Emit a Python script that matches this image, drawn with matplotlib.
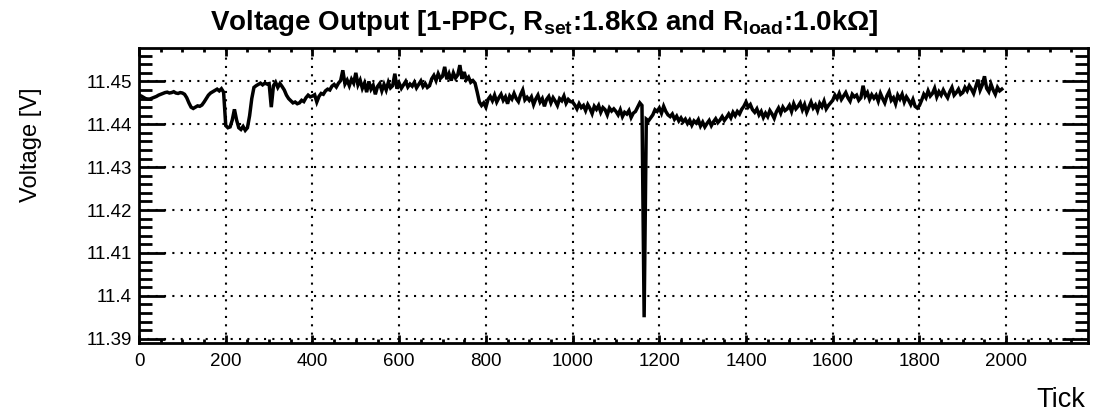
import numpy as np
import matplotlib.pyplot as plt
from matplotlib.ticker import MultipleLocator

plt.rcParams['font.family'] = ['Liberation Sans', 'DejaVu Sans']
plt.rcParams['mathtext.fontset'] = 'custom'
plt.rcParams['mathtext.rm'] = 'Liberation Sans'
plt.rcParams['mathtext.bf'] = 'Liberation Sans:bold'

# readout every 5 ticks, in mV above 11.44 V
base_v = 11.44
ticks = np.arange(0, 1995, 5)
dmv = [
    6.8, 6.6, 6.3, 6.0, 5.9, 5.9, 6.1, 6.3, 6.5, 6.8, 7.0, 7.2, 7.4, 7.5, 7.3, 7.4, 7.6, 7.3, 7.2, 7.4,
    7.3, 7.0, 6.2, 5.0, 4.0, 3.7, 4.0, 4.3, 4.2, 4.5, 5.2, 6.0, 6.8, 7.3, 7.6, 7.9, 8.2, 7.8, 8.3, 7.5,
    -0.3, -0.8, -0.6, 1.0, 3.5, 1.0, -0.8, -1.2, -0.5, -1.4, -0.8, 2.0, 6.0, 8.6, 9.0, 9.3, 9.6, 9.2, 9.6, 9.4,
    9.5, 4.0, 9.0, 9.8, 8.6, 9.5, 8.8, 8.0, 6.8, 6.0, 5.5, 5.0, 5.2, 4.8, 5.0, 5.6, 5.3, 6.2, 6.8, 6.4,
    6.6, 6.9, 5.2, 6.5, 7.2, 7.0, 7.8, 8.2, 8.0, 8.9, 9.3, 8.7, 9.6, 10.2, 12.6, 9.4, 10.3, 9.0, 10.5, 9.6,
    12.0, 9.2, 10.3, 8.4, 9.6, 7.5, 10.0, 8.2, 9.1, 7.0, 8.8, 9.5, 7.8, 9.3, 8.0, 9.8, 8.5, 9.0, 11.8, 8.3,
    9.6, 8.4, 9.2, 10.0, 8.7, 9.4, 8.9, 9.8, 8.5, 9.3, 10.1, 8.8, 9.5, 8.6, 9.0, 10.6, 11.4, 10.2, 11.8, 10.7,
    11.2, 13.4, 10.5, 11.8, 10.2, 12.0, 10.8, 11.5, 13.8, 10.6, 12.2, 10.4, 11.0, 9.8, 10.2, 9.6, 7.5, 5.2, 4.4, 5.0,
    4.0, 5.8, 6.5, 5.5, 6.8, 5.2, 6.2, 7.0, 5.6, 6.4, 4.8, 6.6, 5.9, 7.2, 6.0, 5.3, 6.9, 8.0, 5.7, 6.3,
    5.6, 6.4, 4.6, 5.9, 6.8, 5.2, 6.0, 4.2, 5.8, 6.5, 5.0, 6.2, 5.4, 4.4, 6.0, 5.5, 6.6, 4.9, 5.8, 5.3,
    5.2, 4.5, 3.6, 4.8, 3.9, 4.4, 3.2, 4.6, 3.7, 2.5, 4.2, 3.5, 4.4, 2.8, 3.9, 3.4, 2.2, 3.8, 3.1, 3.6,
    3.0, 2.2, 3.4, 1.8, 2.8, 2.4, 3.2, 1.6, 2.6, 3.0, 4.0, 5.0, 4.4, -45.0, 1.2, 0.8, 1.5, 2.2, 3.4, 3.0,
    3.8, 2.6, 4.2, 3.0, 2.2, 1.8, 2.4, 1.2, 1.9, 0.8, 1.5, 0.6, 1.2, 0.2, 1.0, -0.2, 0.8, 0.3, 1.1, -0.4,
    0.5, -0.6, 0.2, 0.9, -0.3, 0.6, 1.3, 0.4, 1.0, 1.8, 0.9, 1.6, 2.4, 1.5, 2.8, 2.0, 3.0, 2.4, 3.5, 4.2,
    5.2, 4.0, 4.6, 3.4, 2.8, 3.6, 2.2, 3.0, 1.6, 2.6, 1.8, 3.2, 2.4, 1.4, 2.9, 3.8, 2.6, 4.0, 3.2, 3.6,
    4.4, 3.0, 4.8, 3.6, 4.2, 5.0, 3.4, 4.6, 2.8, 4.0, 5.2, 3.8, 4.5, 3.2, 4.9, 4.1, 5.4, 3.6, 4.4, 5.0,
    5.6, 6.8, 6.0, 7.2, 5.8, 6.6, 7.4, 6.2, 5.4, 7.0, 6.4, 6.8, 5.6, 6.2, 9.0, 6.6, 7.4, 5.8, 6.9, 6.1,
    6.8, 5.4, 7.2, 6.0, 5.0, 6.6, 7.6, 5.6, 6.2, 4.8, 6.8, 5.9, 7.0, 5.2, 6.4, 5.6, 4.6, 5.8, 4.2, 3.8,
    4.4, 5.6, 7.0, 6.2, 7.8, 6.6, 7.2, 8.4, 6.4, 7.6, 6.8, 8.0, 7.0, 6.2, 7.6, 8.6, 6.8, 7.4, 8.2, 7.0,
    7.4, 8.6, 7.8, 9.0, 8.2, 7.2, 8.8, 10.4, 8.0, 9.2, 11.2, 8.4, 7.6, 9.4, 8.0, 7.0, 8.6, 7.8, 8.2,
]
voltage = base_v + np.array(dmv) / 1000.0

xtick_vals = np.arange(0, 2001, 200)
ytick_vals = [11.39, 11.40, 11.41, 11.42, 11.43, 11.44, 11.45]
ytick_text = ['11.39', '11.4', '11.41', '11.42', '11.43', '11.44', '11.45']

fig = plt.figure(figsize=(10.94, 4.13), dpi=100)
ax = fig.add_axes([0.1271, 0.1695, 0.8675, 0.7143])

ax.plot(ticks, voltage, color='black', lw=2.5, solid_joinstyle='miter')

ax.set_xlim(0, 2189)
ax.set_ylim(11.389, 11.4578)
ax.set_xticks(xtick_vals)
ax.xaxis.set_minor_locator(MultipleLocator(50))
ax.set_yticks(ytick_vals)
ax.set_yticklabels(ytick_text)
ax.yaxis.set_minor_locator(MultipleLocator(0.002))

ax.tick_params(which='both', direction='in', top=True, right=True, width=2, labelsize=13.5)
ax.tick_params(axis='y', which='major', length=19, pad=5)
ax.tick_params(axis='y', which='minor', length=9.5)
ax.tick_params(axis='x', which='major', length=6, pad=7)
ax.tick_params(axis='x', which='minor', length=3)
for s in ax.spines.values():
    s.set_linewidth(2)

ax.grid(True, which='major', color='black', linestyle=(0, (1, 3)), lw=1.5)

fig.text(0.498, 1 - 30 / 413,
         r'Voltage Output [1-PPC, R$_{\mathbf{set}}$:1.8kΩ and R$_{\mathbf{load}}$:1.0kΩ]',
         ha='center', va='baseline', fontsize=20, fontweight='bold')
fig.text(0.028, 1 - 145 / 413, 'Voltage [V]', rotation=90, ha='center', va='center', fontsize=17)
fig.text(0.992, 0.0145, 'Tick', ha='right', va='baseline', fontsize=19.5)

fig.savefig('out.png', dpi=100)
